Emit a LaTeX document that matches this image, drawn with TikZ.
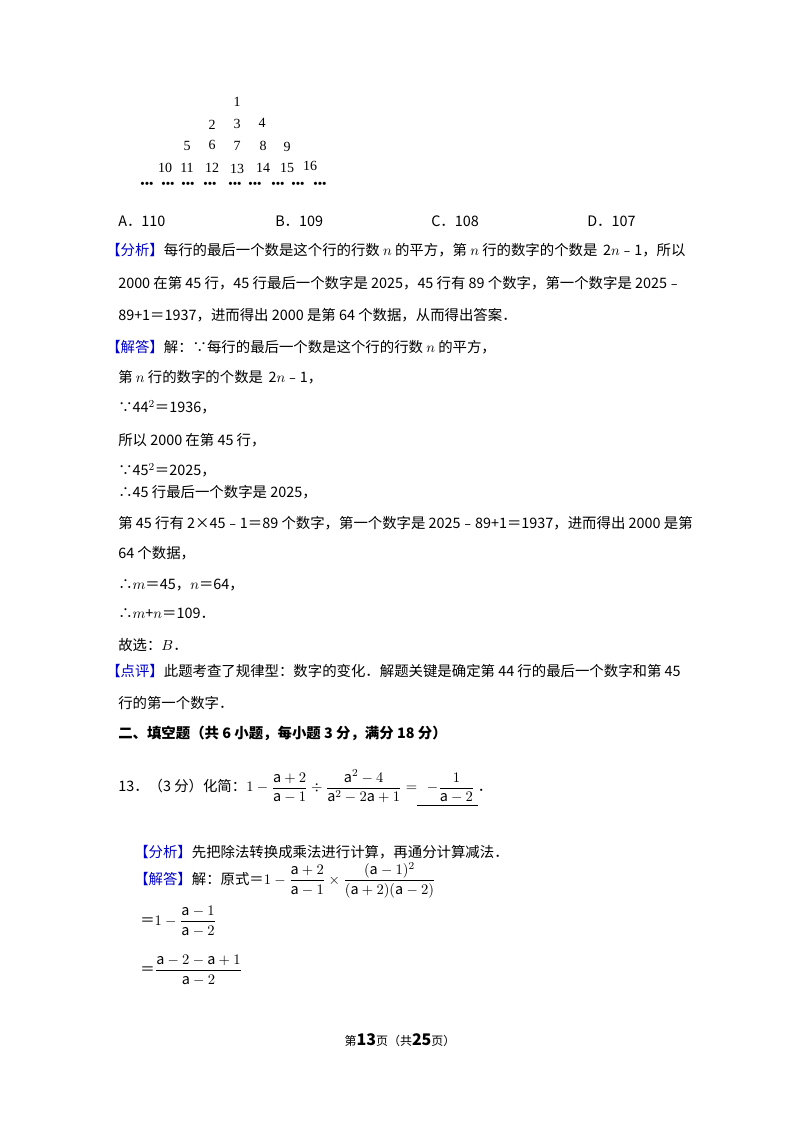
\documentclass[tikz,border=0pt]{standalone}
\usepackage{amsmath}
\usepackage{fontspec}
\setmainfont{Noto Sans CJK SC}
\newfontfamily\tnr{Liberation Serif}
\begin{document}
\begin{tikzpicture}[x=0.75pt,y=-0.75pt,
  t/.style={anchor=west,inner sep=0pt,font=\fontsize{10.8pt}{12pt}\selectfont},
  n/.style={inner sep=0pt,font=\tnr\fontsize{10.5pt}{12pt}\selectfont}]
\useasboundingbox[fill=white] (0,0) rectangle (800,1132);
% triangle
\foreach \v/\x/\y in {1/237/102,2/212/125,3/237/124,4/262/123,5/187/146,6/212/145,7/237/146,8/263/146,9/287/147,
 10/165/168,11/187/168,12/212/168,13/237/169,14/263/168,15/287/168,16/310/166}
 \node[n] (v\v) at (\x,\y) {\v};
\foreach \x [count=\i] in {147,168,188,210,235,255,278,298,320}
 \node[inner sep=0pt,font=\fontsize{5pt}{6pt}\selectfont] (d\i) at (\x,184) {$\bullet\mkern-5mu\bullet\mkern-5mu\bullet$};
\node[t] (oa) at (118,221) {A．110};
\node[t] (ob) at (275,221) {B．109};
\node[t] (oc) at (431,221) {C．108};
\node[t] (od) at (587,221) {D．107};
\node[t] (l1) at (106,250) {\textcolor{blue!80!black}{【分析】}每行的最后一个数是这个行的行数 $n$ 的平方，第 $n$ 行的数字的个数是 \,2$n$﹣1，所以};
\node[t] (l2) at (118,283) {2000 在第 45 行，45 行最后一个数字是 2025，45 行有 89 个数字，第一个数字是 2025﹣};
\node[t] (l3) at (118,315) {89+1＝1937，进而得出 2000 是第 64 个数据，从而得出答案．};
\node[t] (l4) at (106,347) {\textcolor{blue!80!black}{【解答】}解：∵每行的最后一个数是这个行的行数 $n$ 的平方，};
\node[t] (l5) at (118,377) {第 $n$ 行的数字的个数是 \,2$n$﹣1，};
\node[t] (l6) at (118,407) {∵44$^2$＝1936，};
\node[t] (l7) at (118,440) {所以 2000 在第 45 行，};
\node[t] (l8) at (118,470) {∵45$^2$＝2025，};
\node[t] (l9) at (118,492) {∴45 行最后一个数字是 2025，};
\node[t] (l10) at (118,523) {第 45 行有 2×45﹣1＝89 个数字，第一个数字是 2025﹣89+1＝1937，进而得出 2000 是第};
\node[t] (l11) at (118,553) {64 个数据，};
\node[t] (l12) at (118,585) {∴$m$＝45，$n$＝64，};
\node[t] (l13) at (118,613) {∴$m$+$n$＝109．};
\node[t] (l14) at (118,645) {故选：$B$．};
\node[t] (l15) at (106,671) {\textcolor{blue!80!black}{【点评】}此题考查了规律型：数字的变化．解题关键是确定第 44 行的最后一个数字和第 45};
\node[t] (l16) at (118,703) {行的第一个数字．};
\node[t,font=\bfseries\fontsize{10.8pt}{12pt}\selectfont] (h2) at (118,733) {二、填空题（共 6 小题，每小题 3 分，满分 18 分）};
\node[t] (q13) at (118,788) {13．（3 分）化简：$1-\dfrac{\mathrm{a}+2}{\mathrm{a}-1}\div\dfrac{\mathrm{a}^2-4}{\mathrm{a}^2-2\mathrm{a}+1}=$\underline{\ \ \ $-\dfrac{1}{\mathrm{a}-2}$\ }．};
\node[t] (a1) at (134,852) {\textcolor{blue!80!black}{【分析】}先把除法转换成乘法进行计算，再通分计算减法．};
\node[t] (a2) at (134,880) {\textcolor{blue!80!black}{【解答】}解：原式＝$1-\dfrac{\mathrm{a}+2}{\mathrm{a}-1}\times\dfrac{(\mathrm{a}-1)^2}{(\mathrm{a}+2)(\mathrm{a}-2)}$};
\node[t] (a3) at (140,921) {＝$1-\dfrac{\mathrm{a}-1}{\mathrm{a}-2}$};
\node[t] (a4) at (140,970) {＝$\dfrac{\mathrm{a}-2-\mathrm{a}+1}{\mathrm{a}-2}$};
\node[inner sep=0pt,font=\fontsize{9pt}{10pt}\selectfont] (ft) at (400,1040) {第\textbf{\large 13}页（共\textbf{\large 25}页）};
\end{tikzpicture}
\end{document}
